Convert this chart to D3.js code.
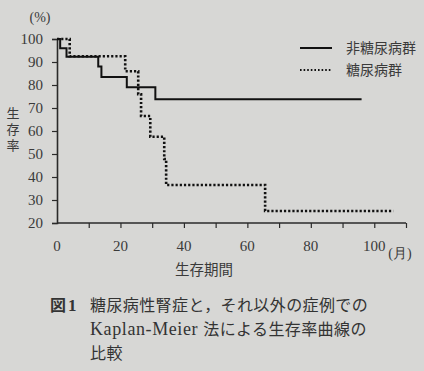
<!DOCTYPE html>
<html>
<head>
<meta charset="utf-8">
<script src="https://cdn.jsdelivr.net/npm/d3@7"></script>
<style>
  body { margin: 0; background: #d7d7d5; }
  svg { display: block; }
</style>
</head>
<body>
<div class="chart"></div>
<script>
var w = 424;
var h = 371;

// survival curves (months, %)
var nonDmTime  = [0, 1, 3, 13, 14, 22, 31, 96];
var nonDmSurv  = [100, 96, 92.3, 88, 83.5, 79, 73.8, 73.8];
var dmTime     = [0, 4, 21.5, 25.6, 26.5, 29.4, 33.8, 34.4, 65.6, 106];
var dmSurv     = [100, 92.5, 86, 76, 66.5, 57.5, 47.8, 36.5, 25.2, 25.2];
var xTicks     = [10, 20, 30, 40, 50, 60, 70, 80, 90, 100, 110];
var xLabels    = [0, 20, 40, 60, 80, 100];
var yTicks     = [20, 30, 40, 50, 60, 70, 80, 90, 100];
var seriesNames = ["非糖尿病群", "糖尿病群"];
var caption = ["糖尿病性腎症と，それ以外の症例での", "法による生存率曲線の", "比較"];

var serif = "'Liberation Serif', 'DejaVu Serif', serif";
var jp = "'Noto Sans CJK JP', sans-serif";
var ink = "#2a2a2a";
var txt = "#3a3a3a";

var svg = d3.select(".chart")
            .append("svg")
            .attr("width", w)
            .attr("height", h);

var x = d3.scaleLinear().domain([0, 110]).range([57, 406]);
var y = d3.scaleLinear().domain([20, 100]).range([223, 39]);

//axes
var xAxis = svg.append("g")
    .attr("transform", "translate(0," + y(20) + ")")
    .call(d3.axisBottom(x).tickValues(xTicks).tickSize(5).tickFormat(""));
var yAxis = svg.append("g")
    .attr("transform", "translate(" + x(0) + ",0)")
    .call(d3.axisLeft(y).tickValues(yTicks).tickSize(5).tickPadding(9));

svg.selectAll(".domain").attr("stroke", ink).attr("stroke-width", 1.6);
svg.selectAll(".tick line").attr("stroke", ink).attr("stroke-width", 1.2);
yAxis.selectAll("text")
    .attr("font-family", serif)
    .attr("font-size", "15px")
    .attr("fill", txt);
xAxis.select(".domain").attr("d", "M" + x(0) + ",0H" + x(110));

svg.selectAll(".xlab")
    .data(xLabels)
    .enter()
    .append("text")
    .attr("class", "xlab")
    .attr("x", function(d) { return x(d); })
    .attr("y", y(20) + 28)
    .attr("text-anchor", "middle")
    .attr("font-family", serif)
    .attr("font-size", "15px")
    .attr("fill", txt)
    .text(function(d) { return d; });

svg.append("text")
    .attr("x", 400).attr("y", 258)
    .attr("text-anchor", "middle")
    .attr("font-family", serif)
    .attr("font-size", "14px")
    .attr("fill", txt)
    .text("(月)");

svg.append("text")
    .attr("x", 40).attr("y", 22)
    .attr("text-anchor", "middle")
    .attr("font-family", serif)
    .attr("font-size", "14px")
    .attr("fill", txt)
    .text("(%)");

// vertical y label
svg.append("text")
    .attr("x", 13)
    .attr("y", 107)
    .attr("writing-mode", "vertical-rl")
    .attr("letter-spacing", "3px")
    .attr("font-family", jp)
    .attr("font-size", "13px")
    .attr("fill", txt)
    .text("生存率");

svg.append("text")
    .attr("x", 204).attr("y", 275)
    .attr("text-anchor", "middle")
    .attr("font-family", jp)
    .attr("font-size", "14.5px")
    .attr("fill", txt)
    .text("生存期間");

//curves
function steps(times, surv) {
    return times.map(function(t, i) { return [t, surv[i]]; });
}
var line = d3.line()
    .x(function(d) { return x(d[0]); })
    .y(function(d) { return y(d[1]); })
    .curve(d3.curveStepAfter);

svg.append("path")
    .datum(steps(nonDmTime, nonDmSurv))
    .attr("d", line)
    .attr("fill", "none")
    .attr("stroke", "#111")
    .attr("stroke-width", 2);

svg.append("path")
    .datum(steps(dmTime, dmSurv))
    .attr("d", line)
    .attr("fill", "none")
    .attr("stroke", "#111")
    .attr("stroke-width", 2.6)
    .attr("stroke-dasharray", "2.2,2");

//legend
var legend = svg.selectAll(".legend")
    .data(seriesNames)
    .enter()
    .append("g")
    .attr("class", "legend")
    .attr("transform", function(d, i) { return "translate(300," + (48 + i * 22) + ")"; });
legend.append("line")
    .attr("x1", 0).attr("x2", 32)
    .attr("stroke", "#111")
    .attr("stroke-width", function(d, i) { return i == 0 ? 2 : 1.8; })
    .attr("stroke-dasharray", function(d, i) { return i == 0 ? null : "1.6,2"; });
legend.append("text")
    .attr("x", 46).attr("y", 5)
    .attr("font-family", jp)
    .attr("font-size", "14px")
    .attr("fill", txt)
    .text(function(d) { return d; });

//caption
var fig = svg.append("text")
    .attr("x", 50).attr("y", 311)
    .attr("font-size", "16px")
    .attr("font-weight", "bold")
    .attr("fill", "#333");
fig.append("tspan").attr("font-family", jp).text("図");
fig.append("tspan").attr("font-family", serif).attr("font-size", "17px").attr("dx", 2).text("1");

var cap = svg.selectAll(".cap")
    .data(caption)
    .enter()
    .append("text")
    .attr("class", "cap")
    .attr("x", 90)
    .attr("y", function(d, i) { return 311 + i * 24; })
    .attr("font-family", jp)
    .attr("font-size", "16px")
    .attr("letter-spacing", "0.4px")
    .attr("fill", "#333");
cap.each(function(d, i) {
    var t = d3.select(this);
    if (i == 1) {
        t.append("tspan")
            .attr("font-family", serif)
            .attr("font-size", "18px")
            .attr("letter-spacing", "0.6px")
            .text("Kaplan-Meier ");
    }
    t.append("tspan").attr("letter-spacing", "0.4px").text(d);
});
</script>
</body>
</html>
